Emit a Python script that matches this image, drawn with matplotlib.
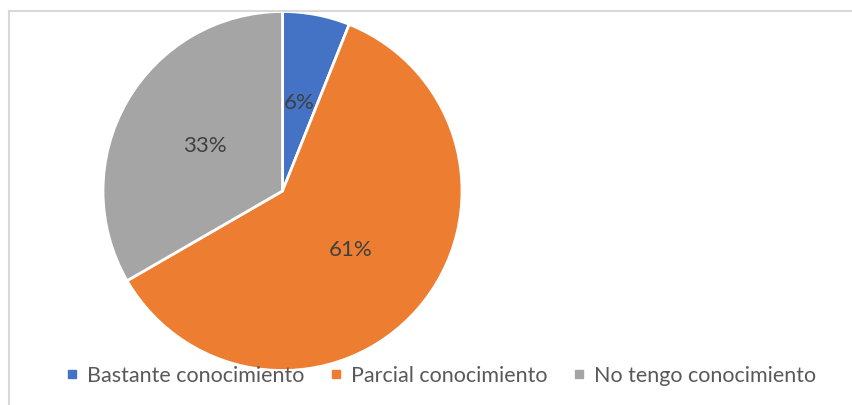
import matplotlib.pyplot as plt
from matplotlib.lines import Line2D

# Datos del gráfico
categorias = ["Bastante conocimiento", "Parcial conocimiento", "No tengo conocimiento"]
valores = [2, 20, 11]
colores = ["#4472C4", "#ED7D31", "#A5A5A5"]

plt.rcParams['font.family'] = ['Lato', 'DejaVu Sans']

W, H = 853, 405
fig = plt.figure(figsize=(W / 100, H / 100), dpi=100)

# marco del área del gráfico
fig.add_artist(Line2D([9 / W, 9 / W], [0, 1 - 11 / H], color="#d9d9d9", lw=1.5))
fig.add_artist(Line2D([9 / W, 1], [1 - 11 / H, 1 - 11 / H], color="#d9d9d9", lw=1.5))

# ejes del pastel, centrado en (282.5, 191) con radio 179.5 px
cx, cy, r = 282.5, 191, 179.5
ax = fig.add_axes([(cx - r) / W, (H - cy - r) / H, 2 * r / W, 2 * r / H])
wedges, texts, autotexts = ax.pie(
    valores, colors=colores, startangle=90, counterclock=False,
    autopct=lambda p: f"{p:.0f}%", pctdistance=0.5,
    wedgeprops=dict(edgecolor="white", linewidth=2),
    textprops=dict(color="#404040", fontsize=16))
ax.set_xlim(-1, 1)
ax.set_ylim(-1, 1)
ax.set_aspect('auto')
ax.axis('off')

# leyenda
handles = [Line2D([], [], marker='s', linestyle='none', markersize=5.5,
                  markerfacecolor=c, markeredgecolor=c) for c in colores]
fig.legend(handles, categorias, loc='center', bbox_to_anchor=(441 / W, 1 - 376 / H),
           ncol=3, frameon=False, fontsize=15.5, labelcolor="#595959",
           handlelength=0.6, handletextpad=0.4, columnspacing=1.15,
           borderaxespad=0, borderpad=0)

plt.savefig('out.png', dpi=100)
